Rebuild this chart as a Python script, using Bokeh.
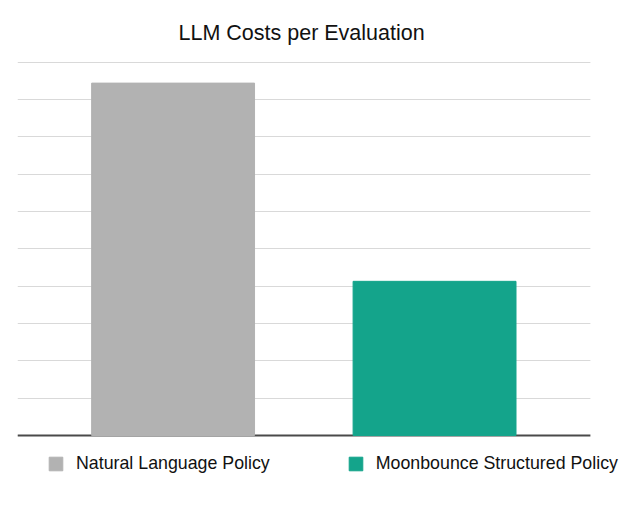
from bokeh.plotting import figure
from bokeh.models import ColumnDataSource, Legend, LegendItem, Range1d, FixedTicker, Span, BoxAnnotation
from bokeh.embed import file_html
from bokeh.resources import INLINE

categories = ["Natural Language Policy", "Moonbounce Structured Policy"]
costs = [9.44, 4.13]
positions = [1, 2]
colors = ["#b2b2b2", "#14a48b"]
grid_values = list(range(0, 11))

src = ColumnDataSource(dict(x=positions, top=costs, color=colors, label=categories))

x_start, x_plot_end, x_frame_end = 0.405, 2.596, 2.757

p = figure(width=632, height=501, output_backend="svg", toolbar_location=None,
           x_range=Range1d(x_start, x_frame_end), y_range=Range1d(-1.634, 10.019),
           frame_width=615, frame_height=435,
           min_border_left=17, min_border_right=0, min_border_top=61, min_border_bottom=5)
p.title.text = "LLM Costs per Evaluation"
p.title.align = "left"
p.title.offset = 161
p.title.text_font = "Liberation Sans"
p.title.text_font_size = "21.5px"
p.title.text_font_style = "normal"
p.title.text_color = "#111111"
p.title.standoff = 34

r = p.vbar(x="x", top="top", bottom=0, width=0.623, color="color", source=src)

p.outline_line_color = None
p.yaxis.visible = False
p.xaxis.visible = False
p.xgrid.grid_line_color = None
p.ygrid.ticker = FixedTicker(ticks=grid_values)
p.ygrid.grid_line_color = "#d9d9d9"
p.ygrid.grid_line_width = 1
p.background_fill_color = "white"
p.border_fill_color = "white"

baseline = Span(location=0, dimension="width", line_color="#4a4a4a", line_width=2, level="underlay")
p.add_layout(baseline)
mask = BoxAnnotation(left=x_plot_end, fill_color="white", fill_alpha=1, line_color=None, level="underlay")
p.add_layout(mask)

legend = Legend(items=[LegendItem(label=categories[i], renderers=[r], index=i) for i in range(2)],
                orientation="horizontal", location=(30, 22),
                glyph_width=17, glyph_height=17, label_standoff=12, spacing=77,
                padding=0, margin=0, border_line_color=None, background_fill_alpha=0,
                label_text_font="Liberation Sans", label_text_font_size="17.8px",
                label_text_color="#111111", label_height=17)
p.add_layout(legend)

open("out.html", "w").write(file_html(p, INLINE))
